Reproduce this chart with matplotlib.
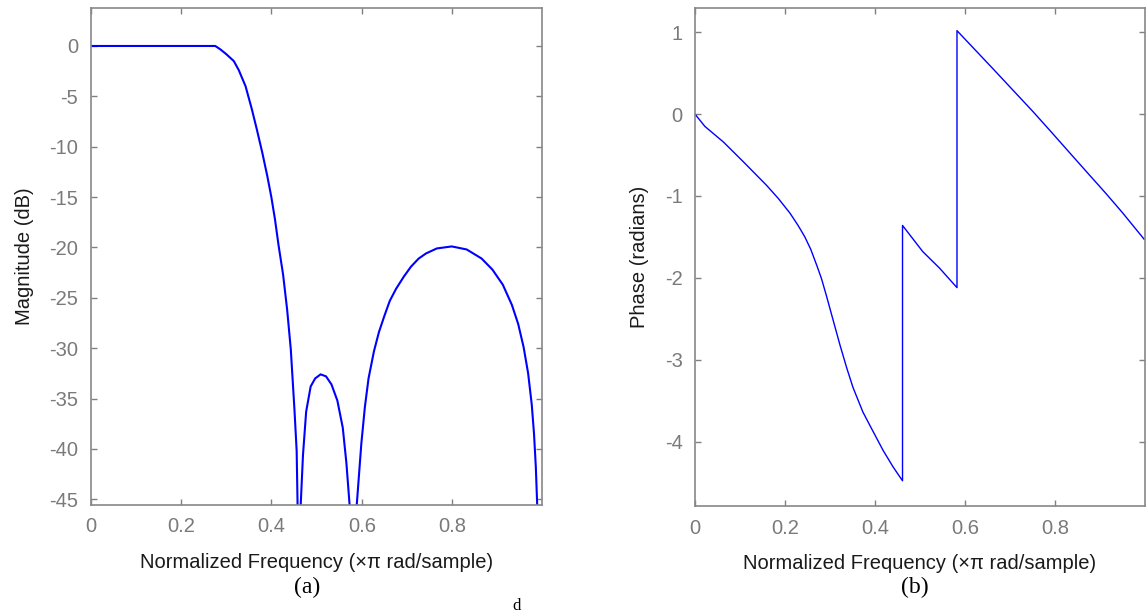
import numpy as np
import matplotlib.pyplot as plt

plt.rcParams['font.family'] = ['Liberation Sans', 'DejaVu Sans']
plt.rcParams['axes.unicode_minus'] = False

# magnitude response; -60 marks the nulls below the axis
mag_freq = [0.0, 0.10, 0.20, 0.276, 0.287, 0.300, 0.317, 0.328, 0.343, 0.357,
            0.368, 0.380, 0.391, 0.400, 0.408, 0.416, 0.426, 0.435, 0.443, 0.451,
            0.456, 0.458, 0.462, 0.465, 0.470, 0.477, 0.487, 0.497, 0.509, 0.521,
            0.533, 0.546, 0.558, 0.566, 0.573, 0.582, 0.589, 0.599, 0.607, 0.615,
            0.627, 0.638, 0.650, 0.662, 0.676, 0.693, 0.709, 0.726, 0.742, 0.766,
            0.799, 0.832, 0.865, 0.889, 0.912, 0.932, 0.946, 0.958, 0.968, 0.976,
            0.981, 0.985, 0.988, 0.992]
mag_db = [0.0, 0.0, 0.0, 0.0, -0.33, -0.8, -1.5, -2.4, -4.0, -6.3,
          -8.3, -10.6, -12.9, -15.0, -17.2, -19.8, -22.7, -26.2, -30.1, -36.0,
          -40.2, -45.5, -60, -45.5, -40.6, -36.3, -33.8, -33.0, -32.6, -32.8,
          -33.6, -35.2, -37.9, -41.4, -45.5, -60, -45.5, -39.5, -35.8, -33.0,
          -30.3, -28.4, -26.8, -25.3, -24.1, -22.9, -21.9, -21.1, -20.6, -20.1,
          -19.9, -20.2, -21.1, -22.2, -23.7, -25.7, -27.6, -29.9, -32.5, -35.6,
          -38.5, -41.8, -45.5, -60]

# phase response; repeated x gives the wrap jumps
ph_freq = [0.0, 0.022, 0.063, 0.107, 0.159, 0.185, 0.211, 0.229, 0.244, 0.257,
           0.270, 0.281, 0.292, 0.307, 0.322, 0.337, 0.351, 0.373, 0.392, 0.418,
           0.440, 0.461, 0.461, 0.506, 0.543, 0.582, 0.582, 0.661, 0.751, 0.795,
           0.832, 0.874, 0.913, 0.949, 0.998]
ph_rad = [0.0, -0.15, -0.34, -0.58, -0.87, -1.03, -1.21, -1.36, -1.50, -1.65,
          -1.84, -2.01, -2.22, -2.52, -2.82, -3.10, -3.34, -3.64, -3.84, -4.11,
          -4.31, -4.48, -1.36, -1.68, -1.88, -2.12, 1.02, 0.56, 0.03, -0.24,
          -0.47, -0.73, -0.97, -1.20, -1.53]

freq_ticks = [0, 0.2, 0.4, 0.6, 0.8]
freq_labels = ['0', '0.2', '0.4', '0.6', '0.8']
mag_ticks = [0, -5, -10, -15, -20, -25, -30, -35, -40, -45]
ph_ticks = [1, 0, -1, -2, -3, -4]

W, H = 1147, 616
fig = plt.figure(figsize=(W / 100, H / 100), dpi=100)
ax1 = fig.add_axes([90.5 / W, 1 - 505 / H, 451.2 / W, 497 / H])
ax2 = fig.add_axes([695 / W, 1 - 506 / H, 449.7 / W, 498.5 / H])

ax1.plot(mag_freq, mag_db, color='#0000ff', lw=1.5)
ax1.set_xlim(0, 0.998)
ax1.set_ylim(-45.57, 3.77)
ax1.set_yticks(mag_ticks)
ax1.set_yticklabels([str(t) for t in mag_ticks])
ax1.set_ylabel('Magnitude (dB)', fontsize=14.5, color='#1a1a1a', labelpad=11)

ax2.plot(ph_freq, ph_rad, color='#0000ff', lw=1.0)
ax2.set_xlim(0, 0.999)
ax2.set_ylim(-4.788, 1.303)
ax2.set_yticks(ph_ticks)
ax2.set_yticklabels([str(t) for t in ph_ticks])
ax2.set_ylabel('Phase (radians)', fontsize=14.5, color='#1a1a1a', labelpad=11)

for ax in (ax1, ax2):
    ax.set_xticks(freq_ticks)
    ax.set_xticklabels(freq_labels)
    ax.set_xlabel('Normalized Frequency (\u00d7\u03c0 rad/sample)',
                  fontsize=14.5, color='#1a1a1a', labelpad=12)
    ax.tick_params(direction='in', length=4, width=1, color='#808080',
                   labelcolor='#7a7a7a', labelsize=14.5, pad=9,
                   top=True, right=True)
    for s in ax.spines.values():
        s.set_color('#888888')
        s.set_linewidth(1.2)

fig.text(307 / W, 1 - 587 / H, '(a)', family='Liberation Serif', fontsize=17,
         ha='center', va='center')
fig.text(915 / W, 1 - 587 / H, '(b)', family='Liberation Serif', fontsize=17,
         ha='center', va='center')
fig.text(517 / W, 1 - 614 / H, 'd', family='Liberation Serif', fontsize=12,
         ha='center', va='bottom')

fig.savefig('out.png', dpi=100)
